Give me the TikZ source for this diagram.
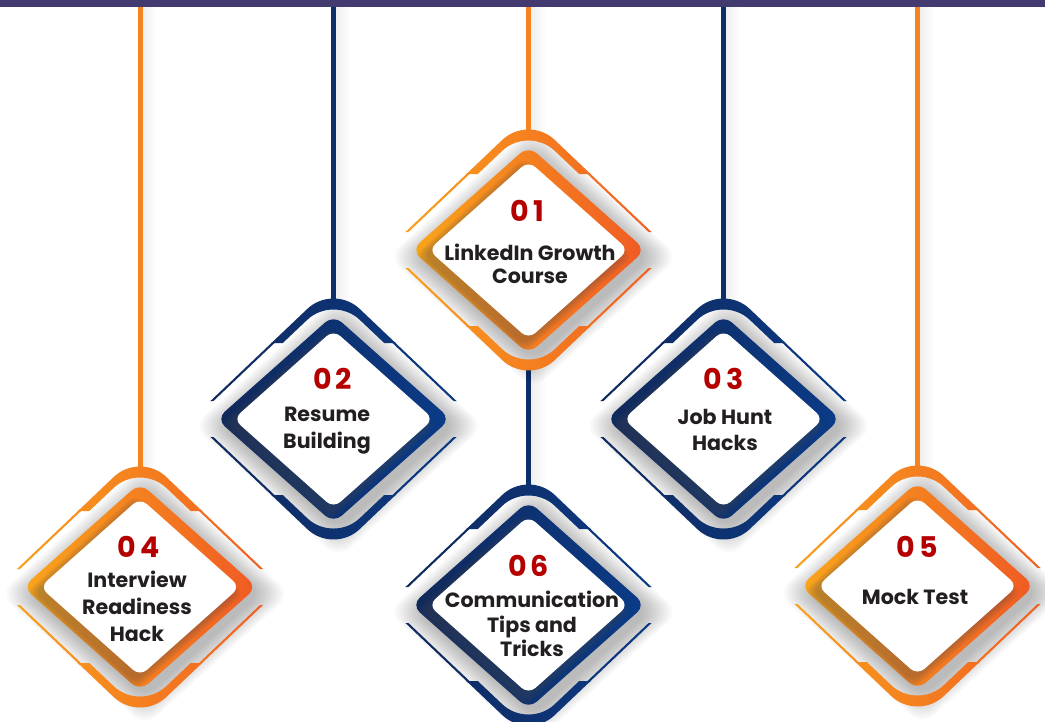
\documentclass[tikz,border=0pt]{standalone}
\usepackage{fontspec}
\setmainfont{Poppins}
\usetikzlibrary{calc}
\definecolor{barC}{HTML}{433A6F}
\definecolor{orL}{HTML}{F9A51B}
\definecolor{orR}{HTML}{F05A24}
\definecolor{orM}{HTML}{F58420}
\definecolor{nvL}{HTML}{10295A}
\definecolor{nvR}{HTML}{0B3B88}
\definecolor{nvM}{HTML}{0C2F6B}
\definecolor{numC}{HTML}{B50000}
\definecolor{txtC}{HTML}{231F20}
\newcommand{\dmd}[2]{({-(#1)/2},{-(#2)/2}) -- (0,{-(#2)}) -- ({#1},0) -- (0,{#2}) -- ({-(#1)},0) -- cycle}
\tikzset{
  pics/dia/.style n args={2}{code={
    \begin{scope}[shift={(5,7)}]
      \foreach \i in {0,...,11}{\fill[black,opacity=0.022,rounded corners=16] \dmd{117+2.6*\i}{104+2.6*\i};}
    \end{scope}
    \begin{scope}
      \clip (-170,-78) rectangle (170,-18) (-170,18) rectangle (170,78);
      \shade[left color=#1,right color=#2,even odd rule] \dmd{142}{135} \dmd{139}{132};
    \end{scope}
    \begin{scope}
      \clip (-170,-170) rectangle (170,-76) (-170,76) rectangle (170,170);
      \shade[left color=#1,right color=#2,even odd rule,rounded corners=36] \dmd{142}{135} \dmd{131}{124};
    \end{scope}
    \shade[left color=#1,right color=#2,rounded corners=11] \dmd{117}{104};
    \begin{scope}
      \clip[rounded corners=11] \dmd{117}{104};
      \begin{scope}[shift={(-5,6)}]
        \foreach \i in {0,...,6}{\fill[gray!60!black,opacity=0.06,rounded corners=9] \dmd{100+1.6*\i}{89+1.6*\i};}
      \end{scope}
    \end{scope}
    \fill[white,rounded corners=9] \dmd{100}{89};
  }},
  hangO/.style={line width=5pt, draw=orM},
  hangN/.style={line width=5pt, draw=nvM},
  lshadow/.style={left color=gray!12, middle color=gray!45, right color=white},
  lbl/.style={text=txtC, align=center, inner sep=0pt},
  num/.style={font=\fontsize{28.5}{28.5}\selectfont\bfseries\addfontfeature{LetterSpace=14}, text=numC, inner sep=0pt}
}
\begin{document}
\begin{tikzpicture}[x=1pt,y=-1pt]
\useasboundingbox (0,0) rectangle (1045,721);
\fill[white] (0,0) rectangle (1045,721);
% centers
\coordinate (c1) at (528.5,250);
\coordinate (c2) at (333.5,419);
\coordinate (c3) at (723.5,419);
\coordinate (c4) at (140,587);
\coordinate (c5) at (917.5,586);
\coordinate (c6) at (528.5,605);
% top ends
\coordinate (tp1) at (528.5,7);
\coordinate (tp2) at (333.5,7);
\coordinate (tp3) at (723.5,7);
\coordinate (tp4) at (140,7);
\coordinate (tp5) at (917.5,7);
\coordinate (b1) at ($(c1)+(0,-118)$);
\coordinate (b2) at ($(c2)+(0,-118)$);
\coordinate (b3) at ($(c3)+(0,-118)$);
\coordinate (b4) at ($(c4)+(0,-118)$);
\coordinate (b5) at ($(c5)+(0,-118)$);
\coordinate (b6) at ($(c6)+(0,-118)$);
\coordinate (u1) at ($(c1)+(0,118)$);
% line shadows
\shade[lshadow] ($(tp1)+(3,0)$) rectangle ($(b1)+(17,0)$);
\shade[lshadow] ($(tp2)+(3,0)$) rectangle ($(b2)+(17,0)$);
\shade[lshadow] ($(tp3)+(3,0)$) rectangle ($(b3)+(17,0)$);
\shade[lshadow] ($(tp4)+(3,0)$) rectangle ($(b4)+(17,0)$);
\shade[lshadow] ($(tp5)+(3,0)$) rectangle ($(b5)+(17,0)$);
\shade[lshadow] ($(u1)+(3,0)$) rectangle ($(b6)+(17,0)$);
% hanging lines
\draw[hangO] (tp1) -- (b1);
\draw[hangN] (tp2) -- (b2);
\draw[hangN] (tp3) -- (b3);
\draw[hangO] (tp4) -- (b4);
\draw[hangO] (tp5) -- (b5);
\draw[hangN] (u1) -- (b6);
% diamonds
\pic at (c1) {dia={orL}{orR}};
\pic at (c2) {dia={nvL}{nvR}};
\pic at (c3) {dia={nvL}{nvR}};
\pic at (c4) {dia={orL}{orR}};
\pic at (c5) {dia={orL}{orR}};
\pic at (c6) {dia={nvL}{nvR}};
% numbers
\node[num] (n1) at (527.5,210.5) {01};
\node[num] (n2) at (332.5,378.5) {02};
\node[num] (n3) at (723.5,378.5) {03};
\node[num] (n4) at (138.5,547) {04};
\node[num] (n5) at (917,547) {05};
\node[num] (n6) at (528.5,565.5) {06};
% labels
\node[lbl, font=\fontsize{20.6}{23.5}\selectfont\bfseries] (d1) at (530,264) {LinkedIn Growth\\Course};
\node[lbl, font=\fontsize{20.6}{26.7}\selectfont\bfseries] (d2) at (327,430.5) {Resume\\Building};
\node[lbl, font=\fontsize{20.6}{26.7}\selectfont\bfseries] (d3) at (725,430) {Job Hunt\\Hacks};
\node[lbl, font=\fontsize{20.6}{26.7}\selectfont\bfseries] (d4) at (137,606.3) {Interview\\Readiness\\Hack};
\node[lbl, font=\fontsize{20.6}{26.7}\selectfont\bfseries] (d5) at (915,596.6) {Mock Test};
\node[lbl, font=\fontsize{20.6}{24.5}\selectfont\bfseries] (d6) at (532,624) {Communication\\Tips and\\Tricks};
% top bar
\fill[barC] (0,0) rectangle (1045,7);
\end{tikzpicture}
\end{document}
